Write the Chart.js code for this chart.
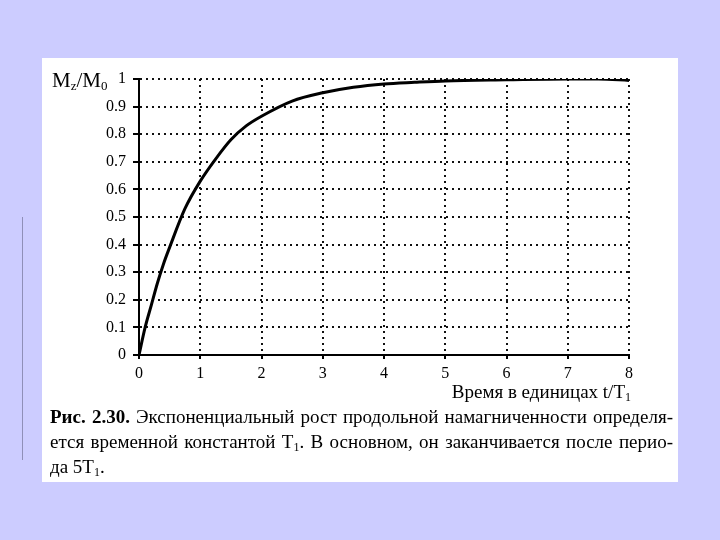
<!DOCTYPE html>
<html>
<head>
<meta charset="utf-8">
<script src="https://cdn.jsdelivr.net/npm/chart.js@4/dist/chart.umd.min.js"></script>
<style>
  html, body { margin: 0; padding: 0; }
  body { width: 720px; height: 540px; background: #ccccff; position: relative; overflow: hidden;
         font-family: "Liberation Serif", "DejaVu Serif", serif; color: #000; }
  #panel { position: absolute; left: 42px; top: 58px; width: 636px; height: 424px; background: #fff; }
  #sideLine { position: absolute; left: 22px; top: 217px; width: 1px; height: 243px; background: #8f8fb8; }
  #chartBox { position: absolute; left: 0; top: 0; width: 720px; height: 540px; }
  #yTitle { position: absolute; left: 52px; top: 68px; font-size: 21px; }
  #xTitle { position: absolute; right: 89px; top: 381px; font-size: 19px; }
  sub { font-size: 12px; vertical-align: -3px; line-height: 0; }
  #yTitle sub { font-size: 13px; }
  #caption { position: absolute; left: 50px; top: 404px; width: 623px; font-size: 19px; line-height: 25px; }
  #caption .j { text-align: justify; text-align-last: justify; white-space: nowrap; }
</style>
</head>
<body>
<div id="panel"></div>
<div id="sideLine"></div>
<div id="chartBox"><canvas id="magChart" width="720" height="540"></canvas></div>
<div id="yTitle">M<sub>z</sub>/M<sub>0</sub></div>
<div id="xTitle">Время в единицах t/T<sub>1</sub></div>
<div id="caption">
  <div class="j"><b>Рис. 2.30.</b> Экспоненциальный рост продольной намагниченности определя-</div>
  <div class="j">ется временной константой T<sub>1</sub>. В основном, он заканчивается после перио-</div>
  <div>да 5T<sub>1</sub>.</div>
</div>
<script>
// ===========================================
// Mz/M0 growth curve
// ===========================================

const timeValues = [0, 0.1, 0.2, 0.3, 0.4, 0.5, 0.75, 1, 1.25, 1.5, 1.75, 2, 2.5, 3, 3.5, 4, 4.5, 5, 6, 7, 7.5, 8];
const magValues  = [0, 0.10, 0.18, 0.26, 0.33, 0.39, 0.53, 0.63, 0.71, 0.78, 0.83, 0.865, 0.92, 0.95, 0.97, 0.982, 0.988, 0.993, 0.997, 1.0, 1.0, 0.995];

const xTickLabels = ['0', '1', '2', '3', '4', '5', '6', '7', '8'];
const yTickLabels = ['0', '0.1', '0.2', '0.3', '0.4', '0.5', '0.6', '0.7', '0.8', '0.9', '1'];

const points = timeValues.map((t, i) => ({ x: t, y: magValues[i] }));

const tickFont = { family: '"Liberation Serif", serif', size: 16 };

const ctx = document.getElementById('magChart');

new Chart(ctx, {
    type: 'line',
    data: {
        datasets: [{
            data: points,
            borderColor: '#000',
            borderWidth: 3,
            pointRadius: 0,
            cubicInterpolationMode: 'monotone',
            fill: false
        }]
    },
    options: {
        responsive: false,
        animation: false,
        layout: {
            padding: { left: 89, right: 91, top: 79, bottom: 155 }
        },
        plugins: {
            legend: { display: false },
            tooltip: { enabled: false }
        },
        scales: {
            x: {
                type: 'linear',
                min: 0,
                max: 8,
                afterFit: (scale) => { scale.height = 30; },
                ticks: {
                    stepSize: 1,
                    color: '#000',
                    font: tickFont,
                    padding: 5,
                    maxRotation: 0,
                    callback: (v) => xTickLabels[v]
                },
                grid: {
                    color: '#111',
                    lineWidth: 2,
                    tickLength: 4,
                    tickColor: '#000',
                    tickBorderDash: [1, 0]
                },
                border: { display: true, color: '#000', width: 2, dash: [2, 4] }
            },
            y: {
                min: 0,
                max: 1,
                afterFit: (scale) => { scale.width = 50; },
                ticks: {
                    stepSize: 0.1,
                    color: '#000',
                    font: tickFont,
                    padding: 7,
                    callback: (v) => yTickLabels[Math.round(v * 10)]
                },
                grid: {
                    color: '#111',
                    lineWidth: 2,
                    tickLength: 6,
                    tickColor: '#000',
                    tickBorderDash: [1, 0]
                },
                border: { display: true, color: '#000', width: 2, dash: [2, 4] }
            }
        }
    }
});
</script>
</body>
</html>
